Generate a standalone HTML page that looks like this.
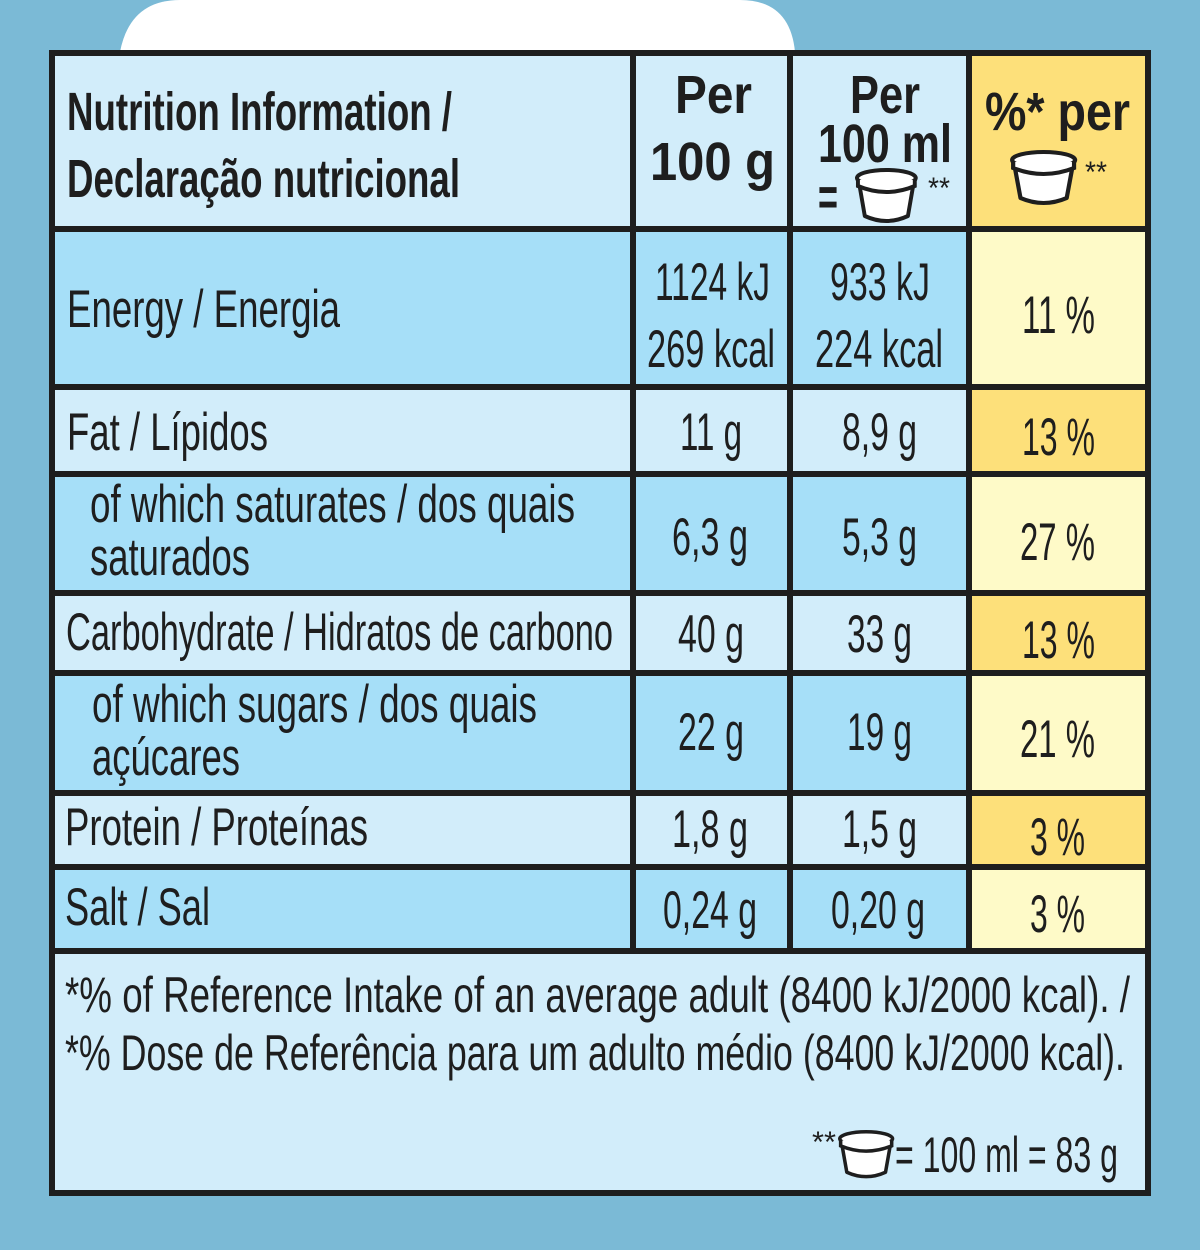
<!DOCTYPE html>
<html><head><meta charset="utf-8"><style>html,body{margin:0;padding:0;background:#7bbad6}svg{display:block}text{font-family:"Liberation Sans",sans-serif;fill:#1e1e1e}</style></head><body>
<svg width="1200" height="1250" viewBox="0 0 1200 1250" xmlns="http://www.w3.org/2000/svg">
<defs>
<g id="cup"><path d="M4 14 L10 48 Q32 58 54 48 L60 14 Z" fill="#fff" stroke="#1e1e1e" stroke-width="4" stroke-linejoin="round"/><ellipse cx="32" cy="10" rx="30" ry="8" fill="#fff" stroke="#1e1e1e" stroke-width="4"/><path d="M3 12 L3 18 Q32 30 61 18 L61 12" fill="#fff" stroke="#1e1e1e" stroke-width="4"/></g>
</defs>
<rect width="1200" height="1250" fill="#7bbad6"/>
<path d="M120 52 Q130 0 180 0 L740 0 Q790 0 795 52 Z" fill="#fff"/>
<!-- cells -->
<rect x="52" y="52" width="1096" height="1144" fill="#d2edfa"/>
<rect x="52" y="229" width="917" height="158" fill="#a6dff8"/>
<rect x="52" y="474" width="917" height="119" fill="#a6dff8"/>
<rect x="52" y="673" width="917" height="120" fill="#a6dff8"/>
<rect x="52" y="867" width="917" height="84" fill="#a6dff8"/>
<rect x="969" y="55" width="179" height="174" fill="#fde07a"/>
<rect x="969" y="229" width="179" height="158" fill="#fefac8"/>
<rect x="969" y="387" width="179" height="87" fill="#fde07a"/>
<rect x="969" y="474" width="179" height="119" fill="#fefac8"/>
<rect x="969" y="593" width="179" height="80" fill="#fde07a"/>
<rect x="969" y="673" width="179" height="120" fill="#fefac8"/>
<rect x="969" y="793" width="179" height="74" fill="#fde07a"/>
<rect x="969" y="867" width="179" height="84" fill="#fefac8"/>
<!-- lines -->
<g stroke="#1e1e1e" stroke-width="6" fill="none">
<rect x="52" y="53" width="1096" height="1140"/>
<line x1="633" y1="53" x2="633" y2="951"/>
<line x1="790" y1="53" x2="790" y2="951"/>
<line x1="969" y1="53" x2="969" y2="951"/>
<line x1="52" y1="229" x2="1148" y2="229"/>
<line x1="52" y1="387" x2="1148" y2="387"/>
<line x1="52" y1="474" x2="1148" y2="474"/>
<line x1="52" y1="593" x2="1148" y2="593"/>
<line x1="52" y1="673" x2="1148" y2="673"/>
<line x1="52" y1="793" x2="1148" y2="793"/>
<line x1="52" y1="867" x2="1148" y2="867"/>
<line x1="52" y1="951" x2="1148" y2="951"/>
</g>
<g font-weight="bold" font-size="54">
<text x="67" y="130" textLength="385" lengthAdjust="spacingAndGlyphs">Nutrition Information /</text>
<text x="67" y="197" textLength="393" lengthAdjust="spacingAndGlyphs">Declaração nutricional</text>
<text x="675" y="113" textLength="77" lengthAdjust="spacingAndGlyphs">Per</text>
<text x="650" y="180" textLength="125" lengthAdjust="spacingAndGlyphs">100 g</text>
<text x="850" y="113" textLength="70" lengthAdjust="spacingAndGlyphs">Per</text>
<text x="818" y="162" textLength="134" lengthAdjust="spacingAndGlyphs">100 ml</text>
<text x="818" y="215" textLength="20" lengthAdjust="spacingAndGlyphs">=</text>
<text x="985" y="130" textLength="145" lengthAdjust="spacingAndGlyphs">%* per</text>
</g>
<text x="928" y="198" font-size="30" textLength="22" lengthAdjust="spacingAndGlyphs">**</text>
<text x="1085" y="182" font-size="30" textLength="22" lengthAdjust="spacingAndGlyphs">**</text>
<use href="#cup" transform="translate(855,168) scale(0.98,1)"/>
<use href="#cup" transform="translate(1010,150) scale(1.05,1)"/>
<g font-size="53">
<text x="67" y="327" textLength="273" lengthAdjust="spacingAndGlyphs">Energy / Energia</text>
<text x="655" y="300" textLength="115" lengthAdjust="spacingAndGlyphs">1124 kJ</text>
<text x="647" y="367" textLength="128" lengthAdjust="spacingAndGlyphs">269 kcal</text>
<text x="830" y="300" textLength="100" lengthAdjust="spacingAndGlyphs">933 kJ</text>
<text x="815" y="367" textLength="128" lengthAdjust="spacingAndGlyphs">224 kcal</text>
<text x="1022" y="333" textLength="73" lengthAdjust="spacingAndGlyphs">11 %</text>
<text x="67" y="450" textLength="201" lengthAdjust="spacingAndGlyphs">Fat / Lípidos</text>
<text x="680" y="450" textLength="62" lengthAdjust="spacingAndGlyphs">11 g</text>
<text x="842" y="450" textLength="75" lengthAdjust="spacingAndGlyphs">8,9 g</text>
<text x="1022" y="455" textLength="73" lengthAdjust="spacingAndGlyphs">13 %</text>
<text x="90" y="522" textLength="485" lengthAdjust="spacingAndGlyphs">of which saturates / dos quais</text>
<text x="90" y="575" textLength="160" lengthAdjust="spacingAndGlyphs">saturados</text>
<text x="672" y="555" textLength="76" lengthAdjust="spacingAndGlyphs">6,3 g</text>
<text x="842" y="555" textLength="75" lengthAdjust="spacingAndGlyphs">5,3 g</text>
<text x="1020" y="560" textLength="75" lengthAdjust="spacingAndGlyphs">27 %</text>
<text x="66" y="650" textLength="547" lengthAdjust="spacingAndGlyphs">Carbohydrate / Hidratos de carbono</text>
<text x="678" y="652" textLength="66" lengthAdjust="spacingAndGlyphs">40 g</text>
<text x="847" y="652" textLength="65" lengthAdjust="spacingAndGlyphs">33 g</text>
<text x="1022" y="658" textLength="73" lengthAdjust="spacingAndGlyphs">13 %</text>
<text x="92" y="722" textLength="445" lengthAdjust="spacingAndGlyphs">of which sugars / dos quais</text>
<text x="92" y="775" textLength="148" lengthAdjust="spacingAndGlyphs">açúcares</text>
<text x="678" y="750" textLength="66" lengthAdjust="spacingAndGlyphs">22 g</text>
<text x="847" y="750" textLength="65" lengthAdjust="spacingAndGlyphs">19 g</text>
<text x="1020" y="757" textLength="75" lengthAdjust="spacingAndGlyphs">21 %</text>
<text x="65" y="845" textLength="303" lengthAdjust="spacingAndGlyphs">Protein / Proteínas</text>
<text x="672" y="847" textLength="76" lengthAdjust="spacingAndGlyphs">1,8 g</text>
<text x="842" y="847" textLength="75" lengthAdjust="spacingAndGlyphs">1,5 g</text>
<text x="1030" y="855" textLength="55" lengthAdjust="spacingAndGlyphs">3 %</text>
<text x="65" y="925" textLength="145" lengthAdjust="spacingAndGlyphs">Salt / Sal</text>
<text x="663" y="928" textLength="94" lengthAdjust="spacingAndGlyphs">0,24 g</text>
<text x="831" y="928" textLength="94" lengthAdjust="spacingAndGlyphs">0,20 g</text>
<text x="1030" y="932" textLength="55" lengthAdjust="spacingAndGlyphs">3 %</text>
</g>
<g font-size="50">
<text x="65" y="1012" textLength="1065" lengthAdjust="spacingAndGlyphs">*% of Reference Intake of an average adult (8400 kJ/2000 kcal). /</text>
<text x="65" y="1070" textLength="1060" lengthAdjust="spacingAndGlyphs">*% Dose de Referência para um adulto médio (8400 kJ/2000 kcal).</text>
<text x="895" y="1172" textLength="223" lengthAdjust="spacingAndGlyphs">= 100 ml = 83 g</text>
</g>
<text x="812" y="1152" font-size="30" textLength="24" lengthAdjust="spacingAndGlyphs">**</text>
<use href="#cup" transform="translate(838,1130) scale(0.88,0.88)"/>
</svg>
</body></html>
